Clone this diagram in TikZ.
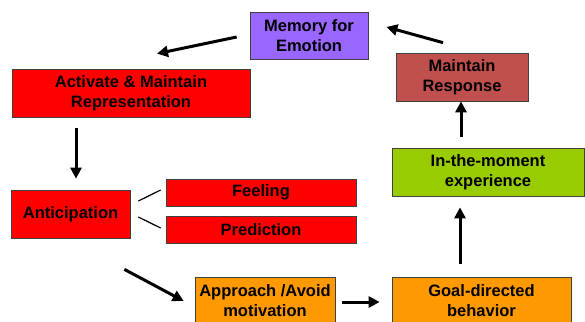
\documentclass[tikz,border=0pt]{standalone}
\usepackage{fontspec}
\setmainfont{Liberation Sans}
\usetikzlibrary{calc,arrows.meta}
\definecolor{emopurple}{RGB}{153,102,255}
\definecolor{emored}{RGB}{255,0,0}
\definecolor{emobrick}{RGB}{192,80,77}
\definecolor{emogreen}{RGB}{153,204,0}
\definecolor{emoorange}{RGB}{255,153,0}
\tikzset{
	box/.style={draw=black!75, line width=0.7pt, align=center, inner sep=1pt,
		font=\bfseries\fontsize{16.5}{20}\selectfont},
	arr/.style={line width=3pt, -{Triangle[length=11pt, width=11pt]}},
	tie/.style={line width=1.2pt}
}

\begin{document}
\begin{tikzpicture}[x=1pt, y=-1pt]
		%%%%% START %%%%%
		\useasboundingbox[fill=white] (0, 0) rectangle (585, 321);
		
		\node[box, fill=emopurple, minimum width=118pt, minimum height=47pt] (mem) at (309, 35.5) {Memory for\\Emotion};
		\node[box, fill=emored, minimum width=238pt, minimum height=48pt] (act) at (131, 93) {Activate \& Maintain\\Representation};
		\node[box, fill=emobrick, minimum width=132pt, minimum height=48pt] (resp) at (462, 77) {Maintain\\Response};
		\node[box, fill=emogreen, minimum width=192pt, minimum height=48pt] (exp) at (488, 172) {In-the-moment\\experience};
		
		\node[box, fill=emored, minimum width=119pt, minimum height=48pt] (ant) at (70.5, 214) {Anticipation};
		\node[box, fill=emored, minimum width=190pt, minimum height=27pt] (feel) at (261, 192.5) {Feeling};
		\node[box, fill=emored, minimum width=190pt, minimum height=27pt] (pred) at (261, 229.5) {Prediction};
		
		\node[box, fill=emoorange, minimum width=140pt, minimum height=48pt] (appr) at (265, 301) {Approach /Avoid\\motivation};
		\node[box, fill=emoorange, minimum width=179pt, minimum height=48pt] (goal) at (481.5, 301) {Goal-directed\\behavior};
		
		\draw[arr] ($(mem.west)+(-13, 1.5)$) -- ($(act.north)+(26, -15)$);
		\draw[arr] ($(resp.north)+(-19, -10)$) -- ($(mem.east)+(18, -8.5)$);
		\draw[arr] ($(exp.north)+(-27, -11)$) -- ($(resp.south)+(-1, 0)$);
		\draw[arr] ($(act.south)+(-55, 11)$) -- ($(ant.north)+(5.5, -11)$);
		
		\draw[tie] ($(ant.east)+(8, -13)$) -- ($(feel.west)+(-5, -2.5)$);
		\draw[tie] ($(ant.east)+(8, 3)$) -- ($(pred.west)+(-5, -1.5)$);
		
		\draw[arr] ($(ant.south east)+(-6, 31)$) -- ($(appr.west)+(-11, 0)$);
		\draw[arr] ($(appr.east)+(7, 1)$) -- ($(goal.west)+(-12, 1)$);
		\draw[arr] ($(goal.north)+(-21.5, -13)$) -- ($(exp.south)+(-28, 11)$);
		%%%%% END %%%%%
\end{tikzpicture}
\end{document}
